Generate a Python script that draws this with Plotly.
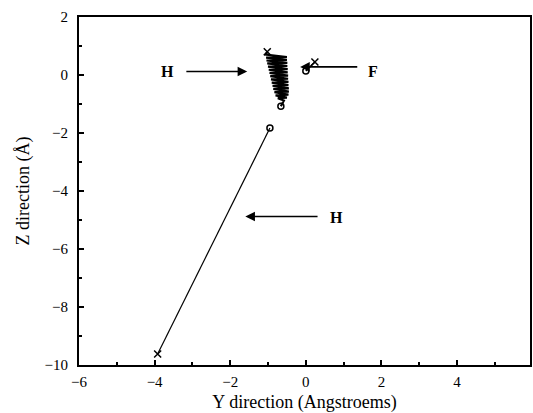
import plotly.graph_objects as go

# Long-range H trajectory (start x-mark, end circle)
h_far_y = [-3.92, -0.95]
h_far_z = [-9.62, -1.83]

# Oscillating H trajectory near the surface
h_near_y = [-1.02, -1.06, -0.50, -1.05, -0.50, -1.04, -0.49, -1.02, -0.49, -1.00,
            -0.48, -0.98, -0.48, -0.96, -0.47, -0.94, -0.47, -0.92, -0.46, -0.90,
            -0.46, -0.88, -0.45, -0.86, -0.45, -0.83, -0.46, -0.80, -0.50, -0.74,
            -0.58, -0.66]
h_near_z = [0.80, 0.70, 0.62, 0.60, 0.52, 0.50, 0.42, 0.40, 0.31, 0.29,
            0.20, 0.18, 0.09, 0.07, -0.02, -0.04, -0.13, -0.15, -0.24, -0.26,
            -0.35, -0.37, -0.46, -0.48, -0.57, -0.59, -0.68, -0.70, -0.78, -0.80,
            -0.88, -1.08]

# F trajectory
f_y = [0.24, 0.12, 0.0]
f_z = [0.45, 0.30, 0.14]

# Label texts and positions (data units)
labels = ["H", "F", "H"]
label_y = [-3.66, 1.79, 0.82]
label_z = [0.12, 0.12, -4.9]
arrow_from_y = [-3.20, 1.40, 0.35]
arrow_to_y = [-1.55, -0.15, -1.60]
arrow_z = [0.12, 0.28, -4.88]

fig = go.Figure()

def traj(ys, zs, width):
    fig.add_trace(go.Scatter(x=ys, y=zs, mode="lines",
                             line=dict(color="black", width=width),
                             showlegend=False, hoverinfo="skip"))
    fig.add_trace(go.Scatter(x=[ys[0]], y=[zs[0]], mode="markers",
                             marker=dict(symbol="x-thin", size=7,
                                         line=dict(color="black", width=1.5)),
                             showlegend=False))
    fig.add_trace(go.Scatter(x=[ys[-1]], y=[zs[-1]], mode="markers",
                             marker=dict(symbol="circle-open", size=6, color="black",
                                         line=dict(color="black", width=1.5)),
                             showlegend=False))

traj(h_far_y, h_far_z, 1.2)
traj(h_near_y, h_near_z, 2.2)
traj(f_y, f_z, 1.6)

serif = "Liberation Serif"
for t, ly, lz in zip(labels, label_y, label_z):
    fig.add_annotation(x=ly, y=lz, text="<b>%s</b>" % t, showarrow=False,
                       font=dict(family=serif, size=16, color="black"))
for fy, ty, az in zip(arrow_from_y, arrow_to_y, arrow_z):
    fig.add_annotation(x=ty, y=az, ax=fy, ay=az, axref="x", ayref="y",
                       text="", showarrow=True, arrowhead=2, arrowsize=1.2,
                       arrowwidth=1.6, arrowcolor="black")

axis_common = dict(showline=True, linecolor="black", linewidth=2, mirror=True,
                   ticks="inside", ticklen=5, tickwidth=1.5, tickcolor="black",
                   showgrid=False, zeroline=False,
                   tickfont=dict(family=serif, size=15, color="black"),
                   minor=dict(ticks="inside", ticklen=3, dtick=1, tickcolor="black"))

fig.update_layout(
    width=533, height=413,
    margin=dict(l=79, r=1, t=17, b=48),
    plot_bgcolor="white", paper_bgcolor="white",
    font=dict(color="black"),
    xaxis=dict(range=[-6, 5.93], dtick=2, tick0=-6, ticklabelstandoff=2,
               title=dict(text="Y direction (Angstroems)", standoff=7,
                          font=dict(family=serif, size=18, color="black")),
               **axis_common),
    yaxis=dict(range=[-10, 2], dtick=2, tick0=-10, ticklabelstandoff=6,
               title=dict(text="Z direction (Å)", standoff=10,
                          font=dict(family=serif, size=18, color="black")),
               **axis_common),
)

fig.write_html("out.html")
